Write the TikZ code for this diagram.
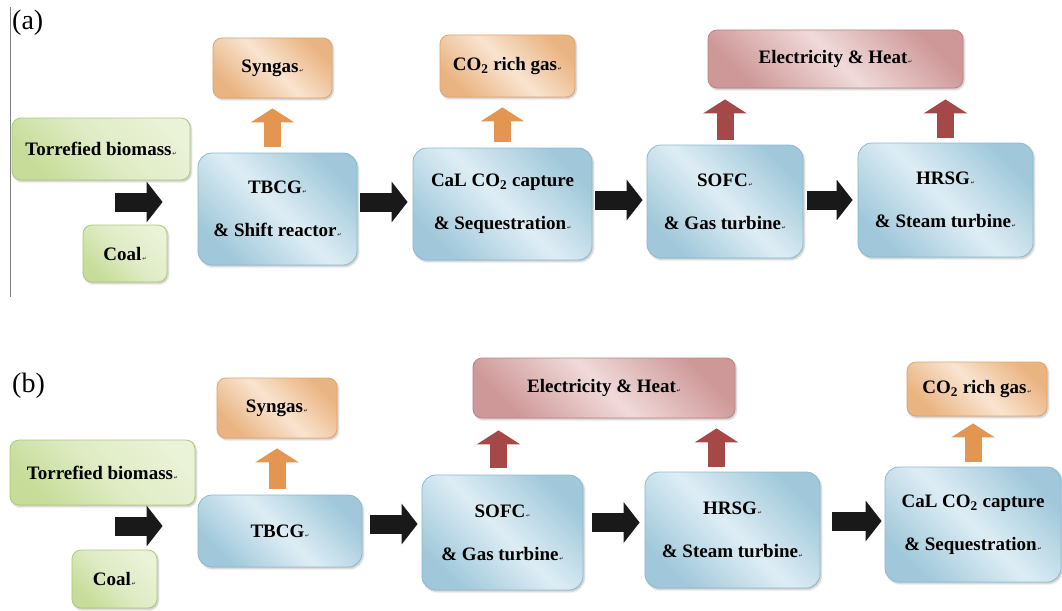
\documentclass[tikz,border=0pt]{standalone}
\usepackage{fontspec}
\setmainfont{Liberation Serif}
\newfontfamily\retfont{DejaVu Sans}
\usepackage{tikz}
\usetikzlibrary{arrows.meta, calc, shadows.blur}
\usepackage{xcolor}
\definecolor{procedge}{RGB}{160,200,218}
\definecolor{proclight}{RGB}{222,237,244}
\definecolor{procline}{RGB}{140,186,206}
\definecolor{feededge}{RGB}{198,220,152}
\definecolor{feedlight}{RGB}{234,242,215}
\definecolor{feedline}{RGB}{172,202,122}
\definecolor{gasedge}{RGB}{234,180,130}
\definecolor{gaslight}{RGB}{249,228,208}
\definecolor{gasline}{RGB}{222,164,112}
\definecolor{powedge}{RGB}{206,152,152}
\definecolor{powlight}{RGB}{240,218,218}
\definecolor{powline}{RGB}{190,132,132}
\definecolor{gasarr}{RGB}{226,150,82}
\definecolor{powarr}{RGB}{165,72,72}
\newcommand{\retmark}{{\retfont\mdseries\fontsize{5}{5}\selectfont\,↵}}

\begin{document}
\begin{tikzpicture}[x=1pt, y=-1pt,
  box/.style={inner sep=0pt, align=center, line width=0.8pt,
    font=\rmfamily\bfseries\fontsize{19}{43}\selectfont,
    blur shadow={shadow blur steps=6, shadow xshift=1.2pt, shadow yshift=-1.6pt, shadow opacity=25}},
  procbox/.style={box, rounded corners=14pt, draw=procline,
    left color=procedge, right color=procedge, middle color=proclight, shading angle=135},
  feedbox/.style={box, rounded corners=9pt, draw=feedline,
    left color=feededge, right color=feedlight, middle color=feedlight!70!feededge, shading angle=135},
  gasbox/.style={box, rounded corners=9pt, draw=gasline,
    left color=gasedge, right color=gasedge, middle color=gaslight, shading angle=135},
  powbox/.style={box, rounded corners=9pt, draw=powline,
    left color=powedge, right color=powedge, middle color=powlight, shading angle=135},
  blkarrow/.style={black!90, line width=19pt, -{Triangle[length=16pt,width=40pt]}},
  gasarrow/.style={gasarr, line width=17pt, -{Triangle[length=14pt,width=43pt]}, shorten <=6pt, shorten >=10pt},
  powarrow/.style={powarr, line width=17pt, -{Triangle[length=14pt,width=43pt]}, shorten <=5pt, shorten >=11pt},
  tag/.style={font=\rmfamily\mdseries\fontsize{28}{30}\selectfont, inner sep=0pt, anchor=base west}
]
\useasboundingbox (0,0) rectangle (1062,610);

% panel (a)
\node[tag] (tagA) at (12,30) {(a)};
\draw[gray, line width=0.8pt] (10,7) -- (10,297);
\node[feedbox, minimum width=178pt, minimum height=62pt] (torrA) at (101,149) {Torrefied biomass\retmark};
\node[feedbox, minimum width=84pt, minimum height=57pt] (coalA) at (125,253.5) {Coal\retmark};
\node[procbox, minimum width=159pt, minimum height=112pt] (tbcgA) at (277.5,209) {TBCG\retmark\\\& Shift reactor\retmark};
\node[gasbox, minimum width=119pt, minimum height=60pt] (syngasA) at (272.5,68) {Syngas\retmark};
\node[procbox, minimum width=179pt, minimum height=112pt] (calA) at (502.5,204) {CaL CO\textsubscript{2} capture\\\& Sequestration\retmark};
\node[gasbox, minimum width=135pt, minimum height=62pt] (co2A) at (507.5,66) {CO\textsubscript{2} rich gas\retmark};
\node[procbox, minimum width=156pt, minimum height=113pt] (sofcA) at (725,201.5) {SOFC\retmark\\\& Gas turbine\retmark};
\node[powbox, minimum width=255pt, minimum height=58pt] (ehA) at (835.5,59) {Electricity \& Heat\retmark};
\node[procbox, minimum width=175pt, minimum height=114pt] (hrsgA) at (945.5,200) {HRSG\retmark\\\& Steam turbine\retmark};

\coordinate (feedA) at (115,202);
\draw[blkarrow, shorten >=35pt] (feedA) -- (feedA -| tbcgA.west);
\draw[blkarrow, shorten <=3pt, shorten >=5pt] ($(tbcgA.east)+(0,-7)$) -- ($(calA.west)+(0,-2)$);
\draw[blkarrow, shorten <=3pt, shorten >=4pt] ($(calA.east)+(0,-4)$) -- ($(sofcA.west)+(0,-1.5)$);
\draw[blkarrow, shorten <=4pt, shorten >=5pt] (sofcA.east |- hrsgA.west) -- (hrsgA.west);
\draw[gasarrow] (syngasA.south |- tbcgA.north) -- (syngasA.south);
\draw[gasarrow] (calA.north) -- (calA.north |- co2A.south);
\draw[powarrow] (sofcA.north) -- (sofcA.north |- ehA.south);
\draw[powarrow] (hrsgA.north) -- (hrsgA.north |- ehA.south);

% panel (b)
\node[tag] (tagB) at (12,392) {(b)};
\node[feedbox, minimum width=185pt, minimum height=65pt] (torrB) at (102.5,472.5) {Torrefied biomass\retmark};
\node[feedbox, minimum width=85pt, minimum height=58pt] (coalB) at (114.5,579) {Coal\retmark};
\node[procbox, minimum width=164pt, minimum height=72pt] (tbcgB) at (280,531) {TBCG\retmark};
\node[gasbox, minimum width=120pt, minimum height=60pt] (syngasB) at (277,408) {Syngas\retmark};
\node[procbox, minimum width=161pt, minimum height=115pt] (sofcB) at (502.5,532.5) {SOFC\retmark\\\& Gas turbine\retmark};
\node[powbox, minimum width=262pt, minimum height=60pt] (ehB) at (604,388) {Electricity \& Heat\retmark};
\node[procbox, minimum width=175pt, minimum height=116pt] (hrsgB) at (732.5,530) {HRSG\retmark\\\& Steam turbine\retmark};
\node[procbox, minimum width=176pt, minimum height=115pt] (calB) at (973,524.5) {CaL CO\textsubscript{2} capture\\\& Sequestration\retmark};
\node[gasbox, minimum width=140pt, minimum height=54pt] (co2B) at (977,389) {CO\textsubscript{2} rich gas\retmark};

\coordinate (feedB) at (115,526);
\coordinate (sofcBtop) at ($(sofcB.north)+(-4,0)$);
\coordinate (hrsgBtop) at ($(hrsgB.north)+(-16,0)$);
\draw[blkarrow, shorten >=35pt] (feedB) -- (feedB -| tbcgB.west);
\draw[blkarrow, shorten <=8pt, shorten >=4pt] ($(tbcgB.east)+(0,-7)$) -- ($(sofcB.west)+(0,-8.5)$);
\draw[blkarrow, shorten <=9pt, shorten >=5pt] ($(sofcB.east)+(0,-10)$) -- ($(hrsgB.west)+(0,-7.5)$);
\draw[blkarrow, shorten <=12pt, shorten >=3pt] ($(hrsgB.east)+(0,-9)$) -- ($(calB.west)+(0,-3.5)$);
\draw[gasarrow] (syngasB.south |- tbcgB.north) -- (syngasB.south);
\draw[gasarrow, shorten <=5pt, shorten >=7pt] (calB.north) -- (calB.north |- co2B.south);
\draw[powarrow, shorten <=7pt, shorten >=12pt] (sofcBtop) -- (sofcBtop |- ehB.south);
\draw[powarrow, shorten <=5pt, shorten >=10pt] (hrsgBtop) -- (hrsgBtop |- ehB.south);
\end{tikzpicture}
\end{document}
